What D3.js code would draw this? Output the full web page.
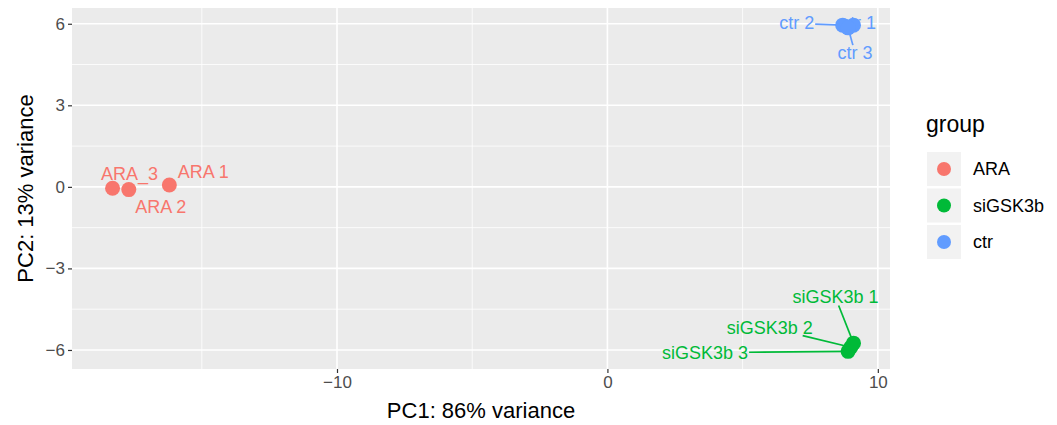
<!DOCTYPE html>
<html>
<head>
<meta charset="utf-8">
<script src="https://cdn.jsdelivr.net/npm/d3@7"></script>
<style>
  body { margin: 0; background: #fff; }
  text { font-family: "Liberation Sans", Arial, sans-serif; }
</style>
</head>
<body>
<svg id="pca"></svg>
<script>
// PCA sample data
const samples = ["ARA 1", "ARA 2", "ARA_3", "ctr 1", "ctr 2", "ctr 3", "siGSK3b 1", "siGSK3b 2", "siGSK3b 3"];
const groups  = ["ARA", "ARA", "ARA", "ctr", "ctr", "ctr", "siGSK3b", "siGSK3b", "siGSK3b"];
const pc1 = [-16.2, -17.7, -18.3, 9.1, 8.7, 8.9, 9.1, 9.0, 8.9];
const pc2 = [0.07, -0.1, -0.05, 5.95, 5.95, 5.85, -5.75, -5.9, -6.05];

const groupNames = ["ARA", "siGSK3b", "ctr"];
const groupColors = ["#F8766D", "#00BA38", "#619CFF"];
const xTicks = [-10, 0, 10];
const yTicks = [-6, -3, 0, 3, 6];

// repelled label placement (pixel offsets from the point) + whether a segment shows
const labelNudge = [[34, -13, false], [32, 17, false], [17, -15, false],
                    [5, -2, false], [-46, -2, true], [7, 25, true],
                    [-18, -46, true], [-81, -20, true], [-143, 1, true]];

const width = 1057, height = 425;
const panel = { left: 72, top: 8, right: 890, bottom: 369 };

const svg = d3.select("#pca").attr("width", width).attr("height", height);

const x = d3.scaleLinear().domain([-19.8, 10.45]).range([panel.left, panel.right]);
const y = d3.scaleLinear().domain([-6.7, 6.58]).range([panel.bottom, panel.top]);
const color = d3.scaleOrdinal().domain(groupNames).range(groupColors);

svg.append("rect")
    .attr("x", panel.left).attr("y", panel.top)
    .attr("width", panel.right - panel.left).attr("height", panel.bottom - panel.top)
    .attr("fill", "#EBEBEB");

// minor grid
const xMinor = [-15, -5, 5];
const yMinor = [-4.5, -1.5, 1.5, 4.5];
svg.selectAll("line.xminor").data(xMinor).enter().append("line")
    .attr("x1", d => x(d)).attr("x2", d => x(d))
    .attr("y1", panel.top).attr("y2", panel.bottom)
    .attr("stroke", "#fff").attr("stroke-width", 0.8);
svg.selectAll("line.yminor").data(yMinor).enter().append("line")
    .attr("y1", d => y(d)).attr("y2", d => y(d))
    .attr("x1", panel.left).attr("x2", panel.right)
    .attr("stroke", "#fff").attr("stroke-width", 0.8);
// major grid
svg.selectAll("line.xmajor").data(xTicks).enter().append("line")
    .attr("x1", d => x(d)).attr("x2", d => x(d))
    .attr("y1", panel.top).attr("y2", panel.bottom)
    .attr("stroke", "#fff").attr("stroke-width", 1.6);
svg.selectAll("line.ymajor").data(yTicks).enter().append("line")
    .attr("y1", d => y(d)).attr("y2", d => y(d))
    .attr("x1", panel.left).attr("x2", panel.right)
    .attr("stroke", "#fff").attr("stroke-width", 1.6);

// axes
const xAxis = svg.append("g")
    .attr("transform", `translate(0,${panel.bottom})`)
    .call(d3.axisBottom(x).tickValues(xTicks).tickSize(4).tickPadding(3));
const yAxis = svg.append("g")
    .attr("transform", `translate(${panel.left},0)`)
    .call(d3.axisLeft(y).tickValues(yTicks).tickSize(4).tickPadding(3));
[xAxis, yAxis].forEach(a => {
    a.select(".domain").remove();
    a.selectAll(".tick line").attr("stroke", "#333").attr("stroke-width", 1.2);
    a.selectAll(".tick text").attr("fill", "#4D4D4D")
        .style("font-size", "17px").style("font-family", "Liberation Sans, Arial, sans-serif");
});

svg.append("text")
    .attr("x", (panel.left + panel.right) / 2).attr("y", 418)
    .attr("text-anchor", "middle").style("font-size", "22px")
    .text("PC1: 86% variance");
svg.append("text")
    .attr("transform", `translate(33,${(panel.top + panel.bottom) / 2}) rotate(-90)`)
    .attr("text-anchor", "middle").style("font-size", "22px")
    .text("PC2: 13% variance");

// labels
const pts = samples.map((s, i) => ({
    name: s, group: groups[i],
    px: x(pc1[i]), py: y(pc2[i]),
    lx: x(pc1[i]) + labelNudge[i][0], ly: y(pc2[i]) + labelNudge[i][1],
    seg: labelNudge[i][2]
}));

const labels = svg.selectAll("text.lab").data(pts).enter().append("text")
    .attr("class", "lab")
    .attr("x", d => d.lx).attr("y", d => d.ly)
    .attr("text-anchor", "middle").attr("dy", "0.35em")
    .attr("fill", d => color(d.group))
    .style("font-size", "18px")
    .text(d => d.name);

labels.each(function (d) {
    if (!d.seg) return;
    const b = this.getBBox();
    const cx = b.x + b.width / 2, cy = b.y + b.height / 2;
    const dx = d.px - cx, dy = d.py - cy;
    const hw = b.width / 2 + 1, hh = b.height / 2 - 2;
    const t = Math.min(Math.abs(hw / dx || Infinity), Math.abs(hh / dy || Infinity));
    svg.append("line")
        .attr("x1", cx + dx * t).attr("y1", cy + dy * t)
        .attr("x2", d.px).attr("y2", d.py)
        .attr("stroke", color(d.group)).attr("stroke-width", 1.7);
});

// points
svg.selectAll("circle.pt").data(pts).enter().append("circle")
    .attr("cx", d => d.px).attr("cy", d => d.py).attr("r", 7.5)
    .attr("fill", d => color(d.group));

// legend
const legend = svg.append("g").attr("transform", "translate(926,0)");
legend.append("text").attr("x", 0).attr("y", 132).style("font-size", "23px").text("group");
const rows = legend.selectAll("g.row").data(groupNames).enter().append("g")
    .attr("transform", (d, i) => `translate(1,${152 + i * 36.5})`);
rows.append("rect").attr("width", 34).attr("height", 34).attr("fill", "#F2F2F2");
rows.append("circle").attr("cx", 17).attr("cy", 17).attr("r", 7).attr("fill", d => color(d));
rows.append("text").attr("x", 46).attr("y", 17).attr("dy", "0.35em")
    .style("font-size", "18px").text(d => d);
</script>
</body>
</html>
